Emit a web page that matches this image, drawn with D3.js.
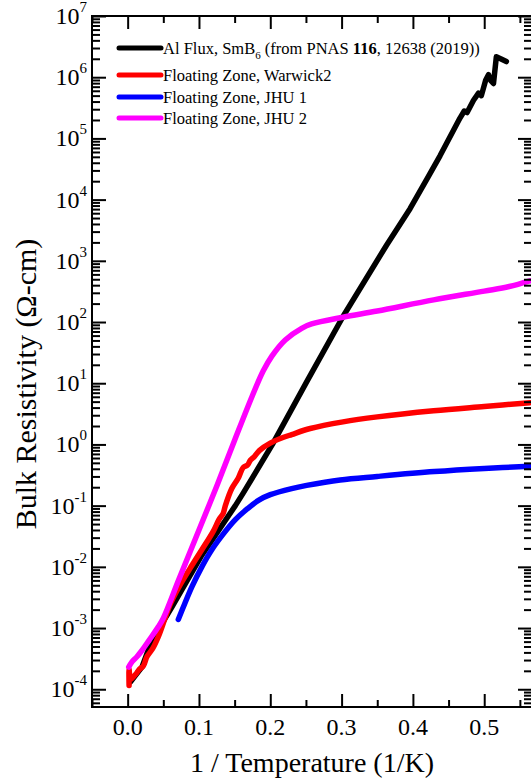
<!DOCTYPE html>
<html><head><meta charset="utf-8">
<script src="https://cdn.jsdelivr.net/npm/d3@7"></script>
<style>
body{margin:0;background:#fff}
text{font-family:"Liberation Serif","Times New Roman",serif;fill:#000}
</style>
</head><body>
<svg id="c" width="531" height="782"></svg>
<script>
// ---- data (x = 1/T in 1/K, rho in Ohm-cm) ----
const seriesNames = ["Al Flux", "Floating Zone, Warwick2", "Floating Zone, JHU 1", "Floating Zone, JHU 2"];
const seriesColors = ["#000000", "#ff0000", "#0000ff", "#ff00ff"];

const alFluxX   = [0.004,0.02,0.034,0.062,0.104,0.151,0.162,0.203,0.251,0.302,0.363,0.396,0.42,0.438,0.466,0.472,0.476,0.485,0.492,0.496,0.502,0.506,0.509,0.513,0.517,0.523,0.531];
const alFluxRho = [1.32e-4,2.3e-4,6.3e-4,2.2e-3,1.55e-2,1.0e-1,1.6e-1,1.0,1.05e1,1.23e2,1.8e3,7.1e3,2.2e4,5.2e4,2.15e5,2.8e5,2.65e5,4.2e5,5.5e5,5.0e5,8.9e5,1.1e6,8.9e5,7.9e5,2.15e6,2.0e6,1.8e6];

const warwickX   = [0.002,0.002,0.004,0.008,0.012,0.016,0.022,0.027,0.035,0.043,0.06,0.072,0.09,0.104,0.12,0.128,0.134,0.137,0.146,0.155,0.162,0.168,0.172,0.178,0.185,0.2,0.215,0.23,0.256,0.302,0.35,0.429,0.5,0.564];
const warwickRho = [1.15e-4,2.1e-4,1.45e-4,1.6e-4,1.8e-4,2.1e-4,2.4e-4,3.4e-4,4.6e-4,7.2e-4,2.5e-3,4.7e-3,1.05e-2,1.9e-2,3.8e-2,5.9e-2,7.5e-2,1.0e-1,1.9e-1,2.8e-1,4.2e-1,4.6e-1,5.5e-1,6.4e-1,8.0e-1,1.05,1.26,1.45,1.82,2.34,2.82,3.55,4.17,4.8];

const jhu1X   = [0.071,0.08,0.09,0.104,0.118,0.135,0.151,0.168,0.184,0.2,0.23,0.251,0.298,0.35,0.43,0.5,0.564];
const jhu1Rho = [1.38e-3,2.5e-3,4.7e-3,1.0e-2,1.9e-2,3.55e-2,5.9e-2,8.9e-2,1.23e-1,1.51e-1,1.9e-1,2.14e-1,2.63e-1,3.0e-1,3.6e-1,4.05e-1,4.4e-1];

const jhu2X   = [0.0015,0.006,0.013,0.02,0.03,0.043,0.05,0.072,0.1,0.125,0.15,0.175,0.19,0.202,0.221,0.244,0.258,0.302,0.35,0.429,0.5,0.535,0.564];
const jhu2Rho = [2.3e-4,2.8e-4,3.4e-4,4.3e-4,6.3e-4,1.05e-3,1.45e-3,6.3e-3,4.0e-2,2.1e-1,1.17,6.3,1.58e1,2.75e1,5.1e1,7.9e1,9.3e1,1.2e2,1.51e2,2.3e2,3.2e2,3.8e2,4.7e2];

const xMajorTicks = [0.0,0.1,0.2,0.3,0.4,0.5];
const xMinorTicks = [-0.05,0.05,0.15,0.25,0.35,0.45,0.55];
const yDecades = [-4,-3,-2,-1,0,1,2,3,4,5,6,7];

const xTitle = "1 / Temperature (1/K)";
const yTitle = "Bulk Resistivity (\u03A9-cm)";

// ---- layout ----
const L = 92, R = 532, T = 16, B = 707;
const svg = d3.select("#c");
const x = d3.scaleLinear().domain([-0.05, 0.567]).range([L, R]);
const y = d3.scaleLog().domain([Math.pow(10,-4.29), 1e7]).range([B, T]);

const yMinor = [];
yDecades.forEach(e => { for (let m = 2; m <= 9; m++) { const v = m*Math.pow(10,e); if (v >= y.domain()[0] && v <= 1e7) yMinor.push(v);} });
for (let m = 5; m <= 9; m++) { const v = m*1e-5; if (v >= y.domain()[0]) yMinor.push(v); }

// clip
svg.append("clipPath").attr("id","clip").append("rect").attr("x",L).attr("y",T).attr("width",R-L).attr("height",B-T);

// data lines
const dataSets = [
  {xs: alFluxX, ys: alFluxRho, c: seriesColors[0], curve: d3.curveLinear},
  {xs: warwickX, ys: warwickRho, c: seriesColors[1], curve: d3.curveCatmullRom},
  {xs: jhu1X, ys: jhu1Rho, c: seriesColors[2], curve: d3.curveCatmullRom},
  {xs: jhu2X, ys: jhu2Rho, c: seriesColors[3], curve: d3.curveCatmullRom}
];
const g = svg.append("g").attr("clip-path","url(#clip)");
dataSets.forEach(s => {
  const pts = s.xs.map((v,i)=>[v, s.ys[i]]);
  g.append("path").attr("d", d3.line().x(d=>x(d[0])).y(d=>y(d[1])).curve(s.curve)(pts))
   .attr("fill","none").attr("stroke", s.c).attr("stroke-width",5.5)
   .attr("stroke-linejoin","round").attr("stroke-linecap","round");
});

// axes ticks (inward)
function styleAxis(sel){ sel.select(".domain").remove(); sel.selectAll("line").attr("stroke","#000").attr("stroke-width",2); sel.selectAll("text").remove(); }
svg.append("g").attr("transform",`translate(0,${B})`).call(d3.axisBottom(x).tickValues(xMajorTicks).tickSize(-13).tickFormat("")).call(styleAxis);
svg.append("g").attr("transform",`translate(0,${B})`).call(d3.axisBottom(x).tickValues(xMinorTicks).tickSize(-7).tickFormat("")).call(styleAxis);
svg.append("g").attr("transform",`translate(0,${T})`).call(d3.axisTop(x).tickValues(xMajorTicks).tickSize(-13).tickFormat("")).call(styleAxis);
svg.append("g").attr("transform",`translate(0,${T})`).call(d3.axisTop(x).tickValues(xMinorTicks).tickSize(-7).tickFormat("")).call(styleAxis);
const yMaj = yDecades.map(e=>Math.pow(10,e));
svg.append("g").attr("transform",`translate(${L},0)`).call(d3.axisLeft(y).tickValues(yMaj).tickSize(-14).tickFormat("")).call(styleAxis);
svg.append("g").attr("transform",`translate(${L},0)`).call(d3.axisLeft(y).tickValues(yMinor).tickSize(-8).tickFormat("")).call(styleAxis);
svg.append("g").attr("transform",`translate(${R},0)`).call(d3.axisRight(y).tickValues(yMaj).tickSize(-14).tickFormat("")).call(styleAxis);
svg.append("g").attr("transform",`translate(${R},0)`).call(d3.axisRight(y).tickValues(yMinor).tickSize(-8).tickFormat("")).call(styleAxis);

// frame
svg.append("rect").attr("x",L).attr("y",T).attr("width",R-L).attr("height",B-T)
   .attr("fill","none").attr("stroke","#000").attr("stroke-width",2);

// x tick labels
svg.append("g").selectAll("text").data(xMajorTicks).join("text")
   .attr("x", d=>x(d)).attr("y", 735).attr("text-anchor","middle").attr("font-size",24)
   .text(d=>d3.format(".1f")(d));

// y tick labels
yDecades.forEach(e => {
  const t = svg.append("text").attr("x", 87).attr("y", y(Math.pow(10,e))+8).attr("text-anchor","end").attr("font-size",24);
  t.append("tspan").text("10");
  t.append("tspan").attr("font-size",15).attr("dy",-12).text(e<0 ? "-"+(-e) : String(e));
});

// titles
svg.append("text").attr("x", (L+R)/2).attr("y", 772).attr("text-anchor","middle").attr("font-size",28).text(xTitle);
svg.append("text").attr("transform",`translate(36,${384}) rotate(-90)`).attr("text-anchor","middle").attr("font-size",30).text(yTitle);

// legend
const legRows = [48, 75, 97, 118];
legRows.forEach((ry,i) => {
  svg.append("line").attr("x1",119).attr("x2",161).attr("y1",ry).attr("y2",ry)
     .attr("stroke",seriesColors[i]).attr("stroke-width",5).attr("stroke-linecap","round");
});
const t0 = svg.append("text").attr("x",163).attr("y",legRows[0]+6).attr("font-size",16.5);
t0.append("tspan").text("Al Flux, SmB");
t0.append("tspan").attr("font-size",11).attr("dy",5).text("6");
t0.append("tspan").attr("dy",-5).text(" (from PNAS ");
t0.append("tspan").attr("font-weight","bold").text("116");
t0.append("tspan").text(", 12638 (2019))");
for (let i=1;i<4;i++) svg.append("text").attr("x",163).attr("y",legRows[i]+6).attr("font-size",16.5).text(seriesNames[i]);
</script>
</body></html>
